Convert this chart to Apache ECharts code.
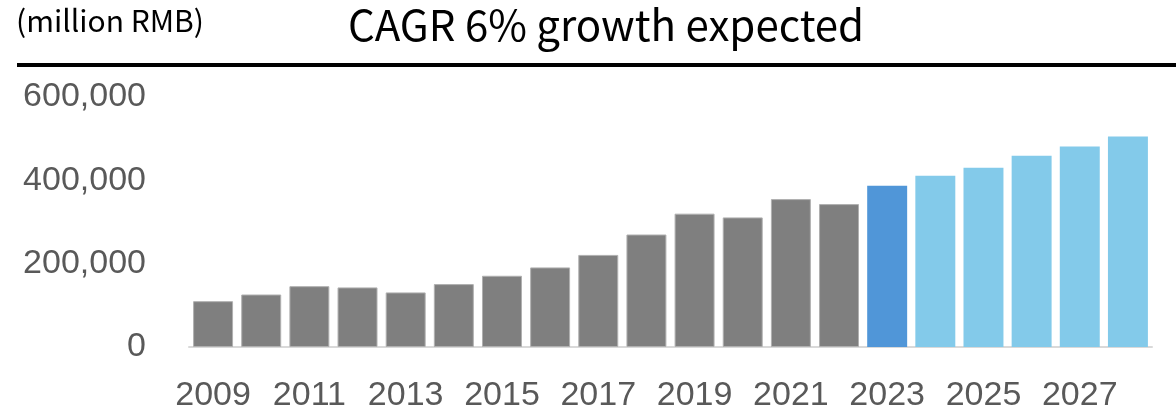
<!DOCTYPE html>
<html>
<head>
<meta charset="utf-8">
<script src="https://cdn.jsdelivr.net/npm/echarts@6/dist/echarts.min.js"></script>
<style>
  html, body { margin: 0; padding: 0; background: #ffffff; }
  #chart { width: 1176px; height: 413px; }
</style>
</head>
<body>
<div id="chart"></div>
<script>
// Market size by year, million RMB (2023 = latest estimate, 2024+ = forecast)
const years = ['2009','2010','2011','2012','2013','2014','2015','2016','2017','2018',
               '2019','2020','2021','2022','2023','2024','2025','2026','2027','2028'];
const marketSize = [110000, 126000, 146000, 143000, 131000, 151000, 171000, 191000, 221000, 270000,
                    320000, 311000, 355000, 343000, 387000, 411000, 430000, 459000, 481000, 505000];
const currentYear = '2023';
const yTicks = [0, 200000, 400000, 600000];
const titleText = 'CAGR 6% growth expected';
const unitText = '(million RMB)';

const barColor = y => {
  if (y === currentYear) return '#5096d8';
  if (Number(y) > Number(currentYear)) return '#83caea';
  return '#7f7f7f';
};

const chart = echarts.init(document.getElementById('chart'), null, { renderer: 'canvas' });
chart.setOption({
  backgroundColor: '#ffffff',
  animation: false,
  title: [
    {
      text: titleText,
      left: 343, top: -1,
      textStyle: { fontFamily: 'Noto Sans CJK JP', fontSize: 42, fontWeight: 'normal', color: '#000000' }
    },
    {
      text: unitText,
      left: 11, top: 1,
      textStyle: { fontFamily: 'Noto Sans CJK JP', fontSize: 30, fontWeight: 'normal', color: '#000000' }
    }
  ],
  graphic: [
    { type: 'rect', shape: { x: 17, y: 63, width: 1159, height: 4 }, style: { fill: '#000000' } }
  ],
  grid: { left: 189, right: 24, top: 97, height: 250, containLabel: false },
  xAxis: {
    type: 'category',
    data: years,
    axisLine: { show: true, lineStyle: { color: '#d9d9d9', width: 2 } },
    axisTick: { show: false },
    axisLabel: {
      interval: 1,
      margin: 32,
      fontFamily: 'Liberation Sans',
      fontSize: 34,
      color: '#595959'
    }
  },
  yAxis: {
    type: 'value',
    min: yTicks[0],
    max: yTicks[yTicks.length - 1],
    interval: yTicks[1] - yTicks[0],
    splitLine: { show: false },
    axisLine: { show: false },
    axisTick: { show: false },
    axisLabel: {
      margin: 43,
      fontFamily: 'Liberation Sans',
      fontSize: 34,
      color: '#595959',
      formatter: v => v.toLocaleString('en-US')
    }
  },
  series: [{
    type: 'bar',
    barCategoryGap: '17%',
    data: marketSize.map((v, i) => {
      const c = barColor(years[i]);
      const actual = Number(years[i]) < Number(currentYear);
      return {
        value: v,
        itemStyle: {
          color: c,
          borderColor: actual ? '#b0b0b0' : c,
          borderWidth: actual ? 1 : 0
        }
      };
    })
  }]
});
</script>
</body>
</html>
